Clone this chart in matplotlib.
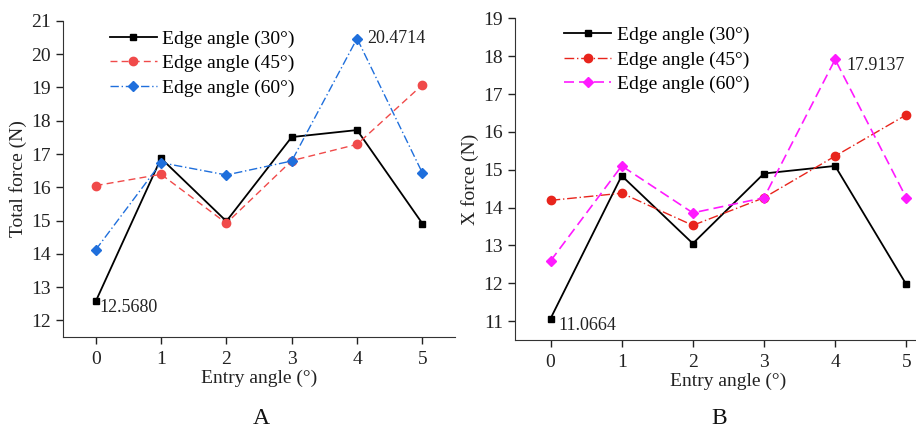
import matplotlib
matplotlib.use('Agg')
import matplotlib.pyplot as plt

# ---------------- DATA ----------------
ENTRY_ANGLE = [0, 1, 2, 3, 4, 5]
LABELS = ['Edge angle (30°)', 'Edge angle (45°)', 'Edge angle (60°)']

TOTAL_30 = [12.568, 16.87, 14.98, 17.51, 17.72, 14.91]
TOTAL_45 = [16.05, 16.39, 14.92, 16.80, 17.29, 19.08]
TOTAL_60 = [14.12, 16.74, 16.37, 16.79, 20.4714, 16.43]

XFORCE_30 = [11.0664, 14.84, 13.05, 14.90, 15.10, 11.97]
XFORCE_45 = [14.19, 14.38, 13.53, 14.26, 15.36, 16.45]
XFORCE_60 = [12.59, 15.10, 13.86, 14.26, 17.9137, 14.26]

plt.rcParams['font.family'] = ['Liberation Serif', 'DejaVu Serif']

fig = plt.figure(figsize=(9.16, 4.30), dpi=100)
axA = fig.add_axes([0.0688, 0.2163, 0.428, 0.735])
axB = fig.add_axes([0.5622, 0.2093, 0.466, 0.748])

FS = 14
ANN_FS = 13


def style_axes(ax, ylo, yhi, ylab, leg_anchor):
    ax.set_xlim(-0.5, 5.5)
    ax.set_ylim(ylo, yhi)
    ax.set_xticks(ENTRY_ANGLE)
    ax.set_yticks(range(int(ylo + 0.5), int(yhi) + 1))
    ax.spines['top'].set_visible(False)
    ax.spines['right'].set_visible(False)
    ax.spines['left'].set_color('#333333')
    ax.spines['bottom'].set_color('#333333')
    ax.tick_params(direction='out', length=5, width=1, labelsize=FS, colors='#222222')
    ax.tick_params(axis='x', pad=5)
    ax.set_xlabel('Entry angle (°)', fontsize=FS, color='#222222', labelpad=1)
    ax.set_ylabel(ylab, fontsize=FS, color='#222222', labelpad=3)
    ax.legend(loc='upper left', bbox_to_anchor=leg_anchor, frameon=False, fontsize=FS,
              handlelength=2.4, handletextpad=0.3, labelspacing=0.36)


# ---------------- PANEL A ----------------
axA.plot(ENTRY_ANGLE, TOTAL_30, color='black', ls='-', lw=1.3, marker='s', ms=5, label=LABELS[0])
axA.plot(ENTRY_ANGLE, TOTAL_45, color='#f04a4a', ls=(0, (5, 3)), lw=1.0, marker='o', ms=6, label=LABELS[1])
axA.plot(ENTRY_ANGLE, TOTAL_60, color='#1f6fdc', ls=(0, (6, 2, 1, 2)), lw=1.0, marker='D', ms=5, label=LABELS[2])
style_axes(axA, 11.5, 21, 'Total force (N)', (0.075, 1.027))
axA.annotate('12.5680', xy=(0, TOTAL_30[0]), xytext=(3, -4), textcoords='offset points',
             fontsize=ANN_FS, va='center', ha='left', color='#222222')
axA.annotate('20.4714', xy=(4, TOTAL_60[4]), xytext=(7, 0), textcoords='offset points',
             fontsize=ANN_FS, va='center', ha='left', color='#222222')
fig.text(0.285, 0.014, 'A', fontsize=17, ha='center', va='baseline', color='#111111')

# ---------------- PANEL B ----------------
axB.plot(ENTRY_ANGLE, XFORCE_30, color='black', ls='-', lw=1.3, marker='s', ms=5, label=LABELS[0])
axB.plot(ENTRY_ANGLE, XFORCE_45, color='#e8241c', ls=(0, (7, 2, 1, 2)), lw=1.0, marker='o', ms=6, label=LABELS[1])
axB.plot(ENTRY_ANGLE, XFORCE_60, color='#ff1aff', ls=(0, (6, 3)), lw=1.2, marker='D', ms=5, label=LABELS[2])
style_axes(axB, 10.5, 19, 'X force (N)', (0.075, 1.03))
axB.annotate('11.0664', xy=(0, XFORCE_30[0]), xytext=(6, -5), textcoords='offset points',
             fontsize=ANN_FS, va='center', ha='left', color='#222222')
axB.annotate('17.9137', xy=(4, XFORCE_60[4]), xytext=(8, -4), textcoords='offset points',
             fontsize=ANN_FS, va='center', ha='left', color='#222222')
fig.text(0.785, 0.014, 'B', fontsize=17, ha='center', va='baseline', color='#111111')

fig.savefig('out.png', dpi=100)
